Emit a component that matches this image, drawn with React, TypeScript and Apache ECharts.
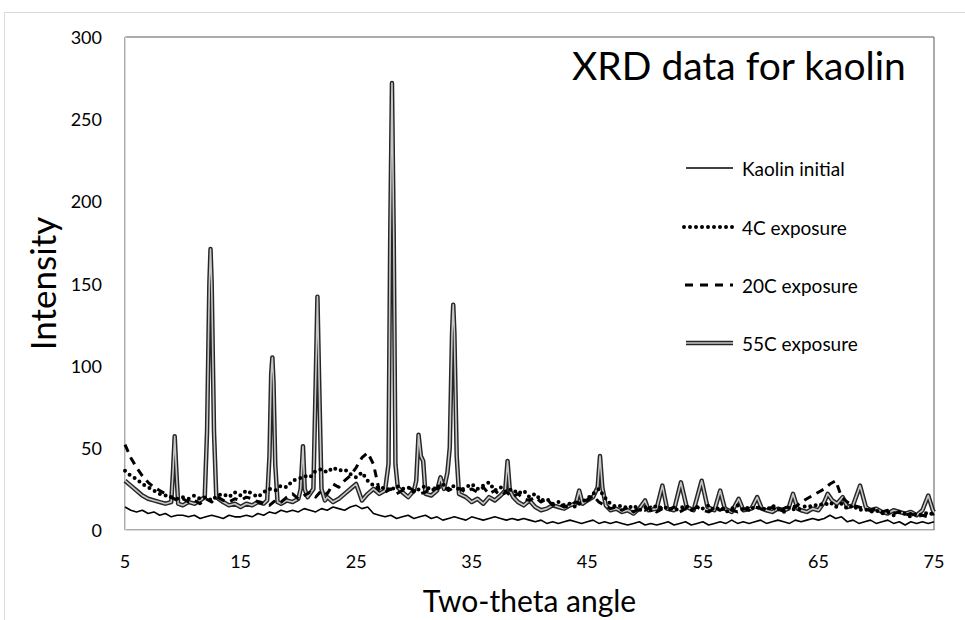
import React, { useEffect, useRef } from "react";
import * as echarts from "echarts";

const FONT = "Lato";

const angles = [
  5, 5.5, 6, 6.5, 7, 7.5, 8, 8.5, 9, 9.5,
  10, 10.5, 11, 11.5, 12, 12.5, 13, 13.5, 14, 14.5,
  15, 15.5, 16, 16.5, 17, 17.5, 18, 18.5, 19, 19.5,
  20, 20.5, 21, 21.5, 22, 22.5, 23, 23.5, 24, 24.5,
  25, 25.5, 26, 26.5, 27, 27.5, 28, 28.5, 29, 29.5,
  30, 30.5, 31, 31.5, 32, 32.5, 33, 33.5, 34, 34.5,
  35, 35.5, 36, 36.5, 37, 37.5, 38, 38.5, 39, 39.5,
  40, 40.5, 41, 41.5, 42, 42.5, 43, 43.5, 44, 44.5,
  45, 45.5, 46, 46.5, 47, 47.5, 48, 48.5, 49, 49.5,
  50, 50.5, 51, 51.5, 52, 52.5, 53, 53.5, 54, 54.5,
  55, 55.5, 56, 56.5, 57, 57.5, 58, 58.5, 59, 59.5,
  60, 60.5, 61, 61.5, 62, 62.5, 63, 63.5, 64, 64.5,
  65, 65.5, 66, 66.5, 67, 67.5, 68, 68.5, 69, 69.5,
  70, 70.5, 71, 71.5, 72, 72.5, 73, 73.5, 74, 74.5,
  75,
];

const kaolinInitial = [
  14, 12, 11, 12, 10, 11, 9, 10, 8, 9,
  9, 8, 9, 7, 8, 9, 8, 7, 9, 8,
  8, 9, 8, 10, 9, 11, 10, 12, 11, 12,
  11, 13, 12, 11, 13, 12, 14, 13, 12, 14,
  15, 13, 14, 10, 9, 8, 9, 7, 8, 9,
  7, 8, 9, 7, 8, 6, 7, 8, 7, 6,
  8, 7, 6, 7, 8, 7, 6, 7, 6, 7,
  6, 5, 6, 4, 5, 4, 5, 6, 5, 4,
  5, 6, 4, 5, 4, 5, 4, 3, 4, 5,
  3, 4, 3, 4, 5, 3, 4, 5, 3, 4,
  5, 3, 4, 5, 4, 6, 4, 5, 4, 5,
  6, 4, 5, 6, 5, 4, 6, 5, 6, 7,
  6, 7, 9, 7, 8, 5, 6, 4, 5, 6,
  4, 5, 6, 4, 5, 3, 5, 4, 5, 4,
  5,
];

const exposure4C = [
  36, 33, 31, 28, 26, 24, 22, 21, 20, 19,
  20, 19, 21, 19, 20, 18, 21, 22, 20, 23,
  21, 24, 22, 20, 23, 25, 24, 27, 26, 30,
  31, 33, 32, 36, 37, 35, 38, 36, 37, 34,
  32, 35, 30, 27, 25, 26, 24, 27, 25, 26,
  23, 25, 27, 24, 26, 28, 25, 27, 24, 26,
  28, 25, 27, 29, 24, 26, 23, 25, 22, 24,
  20, 22, 18, 19, 16, 17, 15, 16, 14, 17,
  19, 22, 25, 20, 16, 14, 15, 13, 15, 12,
  14, 12, 15, 13, 14, 12, 13, 15, 12, 14,
  13, 15, 12, 14, 11, 13, 15, 12, 14, 13,
  14, 12, 15, 13, 11, 14, 12, 13, 15, 14,
  16, 15, 17, 14, 16, 13, 15, 12, 13, 11,
  12, 10, 11, 9, 11, 10, 8, 10, 9, 11,
  9,
];

const exposure20C = [
  52, 44, 38, 33, 29, 26, 24, 22, 20, 18,
  19, 17, 18, 16, 19, 17, 20, 18, 17, 19,
  18, 20, 19, 17, 16, 15, 18, 17, 20, 22,
  19, 21, 23, 20, 24, 22, 28, 26, 30, 33,
  38, 44, 47, 40, 24, 23, 25, 22, 24, 26,
  24, 22, 23, 26, 25, 27, 24, 26, 25, 23,
  25, 23, 26, 22, 24, 21, 23, 20, 22, 19,
  18, 20, 17, 19, 15, 16, 14, 15, 17, 16,
  18, 21, 17, 15, 13, 14, 12, 14, 11, 13,
  12, 14, 11, 13, 12, 14, 11, 13, 12, 14,
  12, 11, 13, 12, 14, 12, 11, 13, 12, 14,
  13, 12, 14, 11, 13, 15, 14, 17, 19, 21,
  23, 25, 28, 30, 20, 17, 15, 14, 13, 12,
  13, 11, 12, 10, 11, 9, 10, 8, 9, 8,
  10,
];

const angles55C = [
  5, 5.5, 6, 6.5, 7, 7.5, 8, 8.5, 9.0,
  9.15, 9.3, 9.45, 9.6,
  10, 10.5, 11, 11.5, 11.9,
  12.1, 12.3, 12.4, 12.5, 12.7, 12.9,
  13.5, 14, 14.5, 15, 15.5, 16, 16.5, 17, 17.3,
  17.5, 17.65, 17.75, 17.85, 18.0, 18.2,
  18.5, 19, 19.5, 20.0, 20.2, 20.4, 20.55, 20.8,
  21.3, 21.5, 21.65, 21.8, 22.0, 22.3,
  22.5, 23, 23.5, 24, 24.5, 25, 25.3, 25.5, 26, 26.5, 27, 27.5,
  27.8, 27.95, 28.1, 28.25, 28.4, 28.6,
  29, 29.5, 30.0, 30.2, 30.4, 30.6, 30.8, 31.0, 31.5, 32, 32.3, 32.6,
  32.9, 33.1, 33.3, 33.4, 33.5, 33.7, 33.9,
  34.5, 35, 35.5, 36, 36.5, 37, 37.5, 37.9, 38.1, 38.3, 38.6,
  39, 39.5, 40, 40.5, 41, 41.5, 42, 42.5, 43, 43.5, 44, 44.3, 44.6,
  45, 45.5, 45.9, 46.1, 46.3, 46.6,
  47, 47.5, 48, 48.5, 49, 49.5, 50, 50.3, 51, 51.5, 51.9, 52.5,
  53.1, 53.6, 54.2, 54.9, 55.4, 56, 56.5, 56.9, 57.5, 58.1, 58.5,
  59.2, 59.7, 60.1, 60.5, 61, 61.5, 62, 62.4, 62.8, 63.2, 63.5,
  64, 64.5, 65, 65.5, 65.8, 66.2, 66.6, 67.1, 67.5, 68, 68.6, 69.1,
  69.5, 70, 70.5, 71, 71.5, 72, 72.5, 73, 73.5, 74, 74.5, 74.9, 75,
];

const exposure55C = [
  30, 27, 24, 21, 19, 18, 17, 16, 17,
  35, 57, 35, 16,
  15, 17, 16, 18, 20,
  60, 150, 171, 150, 60, 20,
  17, 15, 16, 14, 16, 15, 17, 16, 18,
  45, 95, 105, 90, 40, 17,
  16, 18, 17, 19, 25, 51, 25, 20,
  25, 90, 142, 90, 25, 18,
  20, 17, 19, 22, 25, 28, 22, 18, 22, 25, 22, 24,
  40, 180, 272, 180, 40, 26,
  23, 20, 24, 30, 58, 45, 42, 22, 21, 24, 32, 25,
  35, 50, 120, 137, 120, 45, 22,
  20, 17, 19, 16, 20, 18, 21, 24, 42, 24, 20,
  17, 15, 18, 14, 12, 13, 15, 14, 13, 15, 16, 24, 16,
  18, 20, 26, 45, 26, 15,
  12, 13, 11, 12, 10, 13, 18, 12, 13, 27, 13, 12,
  29, 14, 12, 30, 14, 12, 24, 13, 11, 19, 12,
  13, 20, 13, 12, 11, 13, 12, 13, 22, 13, 12,
  11, 13, 12, 17, 22, 18, 16, 20, 14, 15, 27, 14,
  12, 13, 11, 10, 12, 11, 10, 11, 9, 12, 21, 12, 11,
];

const xTickMin = 5;
const xTickMax = 75;
const xTickStep = 10;
const yTickMin = 0;
const yTickMax = 300;
const yTickStep = 50;

const legendNames = ["Kaolin initial", "4C exposure", "20C exposure", "55C exposure"];

export default function App() {
  const ref = useRef<HTMLDivElement>(null);

  useEffect(() => {
    if (!ref.current) return;
    const chart = echarts.init(ref.current, undefined, { renderer: "svg" });

    const pairs = (xs: number[], ys: number[]) => xs.map((x, i) => [x, ys[i]]);

    const legendX0 = 686;
    const legendX1 = 733;
    const legendYs = [168, 227, 285, 343];

    const legendGraphics: any[] = [
      {
        type: "line",
        shape: { x1: legendX0, y1: legendYs[0], x2: legendX1, y2: legendYs[0] },
        style: { stroke: "#000", lineWidth: 1.6 },
      },
      {
        type: "line",
        shape: { x1: legendX0 - 2, y1: legendYs[1], x2: legendX1, y2: legendYs[1] },
        style: { stroke: "#000", lineWidth: 4, lineDash: [0, 6], lineCap: "round" },
      },
      {
        type: "line",
        shape: { x1: legendX0 - 1, y1: legendYs[2], x2: legendX1, y2: legendYs[2] },
        style: { stroke: "#000", lineWidth: 3, lineDash: [8, 7] },
      },
      {
        type: "line",
        shape: { x1: legendX0, y1: legendYs[3], x2: legendX1, y2: legendYs[3] },
        style: { stroke: "#262626", lineWidth: 4.5 },
      },
      {
        type: "line",
        shape: { x1: legendX0, y1: legendYs[3], x2: legendX1, y2: legendYs[3] },
        style: { stroke: "#c8c8c8", lineWidth: 1.6 },
      },
      ...legendNames.map((n, i) => ({
        type: "text",
        x: 742,
        y: legendYs[i],
        style: {
          text: n,
          fill: "#000",
          fontSize: 19,
          fontFamily: FONT,
          verticalAlign: "middle",
          align: "left",
        },
      })),
    ];

    chart.setOption({
      animation: false,
      backgroundColor: "#fff",
      title: {
        text: "XRD data for kaolin",
        left: 572,
        top: 45,
        padding: 0,
        textStyle: { fontSize: 39, fontWeight: "normal", color: "#000", fontFamily: FONT },
      },
      grid: {
        left: 125,
        right: 31,
        top: 37,
        bottom: 88,
        show: true,
        borderColor: "#595959",
        borderWidth: 1,
        backgroundColor: "transparent",
      },
      xAxis: {
        type: "value",
        min: xTickMin,
        max: xTickMax,
        interval: xTickStep,
        axisLine: { show: true, onZero: false, lineStyle: { color: "#d9d9d9", width: 1 } },
        axisTick: { show: false },
        splitLine: { show: false },
        axisLabel: { fontSize: 18, color: "#000", margin: 22, fontFamily: FONT },
        name: "Two-theta angle",
        nameLocation: "middle",
        nameGap: 55,
        nameTextStyle: { fontSize: 30, color: "#000", fontFamily: FONT },
      },
      yAxis: {
        type: "value",
        min: yTickMin,
        max: yTickMax,
        interval: yTickStep,
        axisLine: { show: true, lineStyle: { color: "#d9d9d9", width: 1 } },
        axisTick: { show: false },
        splitLine: { show: false },
        axisLabel: { fontSize: 18, color: "#000", margin: 23, fontFamily: FONT },
        name: "Intensity",
        nameLocation: "middle",
        nameGap: 66,
        nameTextStyle: { fontSize: 35, color: "#000", fontFamily: FONT },
      },
      graphic: [
        {
          type: "rect",
          shape: { x: 4.5, y: 12.5, width: 1000, height: 700 },
          style: { fill: "none", stroke: "#d9d9d9", lineWidth: 1 },
          silent: true,
        },
        ...legendGraphics,
      ],
      series: [
        {
          name: "55C exposure",
          type: "line",
          data: pairs(angles55C, exposure55C),
          showSymbol: false,
          silent: true,
          z: 1,
          lineStyle: { color: "#262626", width: 4.5, join: "round" },
        },
        {
          name: "55C exposure (inner)",
          type: "line",
          data: pairs(angles55C, exposure55C),
          showSymbol: false,
          silent: true,
          z: 2,
          lineStyle: { color: "#c8c8c8", width: 1.6, join: "round" },
        },
        {
          name: "Kaolin initial",
          type: "line",
          data: pairs(angles, kaolinInitial),
          showSymbol: false,
          silent: true,
          z: 3,
          lineStyle: { color: "#000", width: 1.6, join: "round" },
        },
        {
          name: "4C exposure",
          type: "line",
          data: pairs(angles, exposure4C),
          showSymbol: false,
          silent: true,
          z: 4,
          lineStyle: { color: "#000", width: 4, type: [0, 6], cap: "round", join: "round" },
        },
        {
          name: "20C exposure",
          type: "line",
          data: pairs(angles, exposure20C),
          showSymbol: false,
          silent: true,
          z: 5,
          lineStyle: { color: "#000", width: 3, type: [8, 6], join: "round" },
        },
      ],
    });

    return () => chart.dispose();
  }, []);

  return (
    <div
      ref={ref}
      style={{ position: "fixed", left: 0, top: 0, width: 965, height: 620 }}
    />
  );
}
